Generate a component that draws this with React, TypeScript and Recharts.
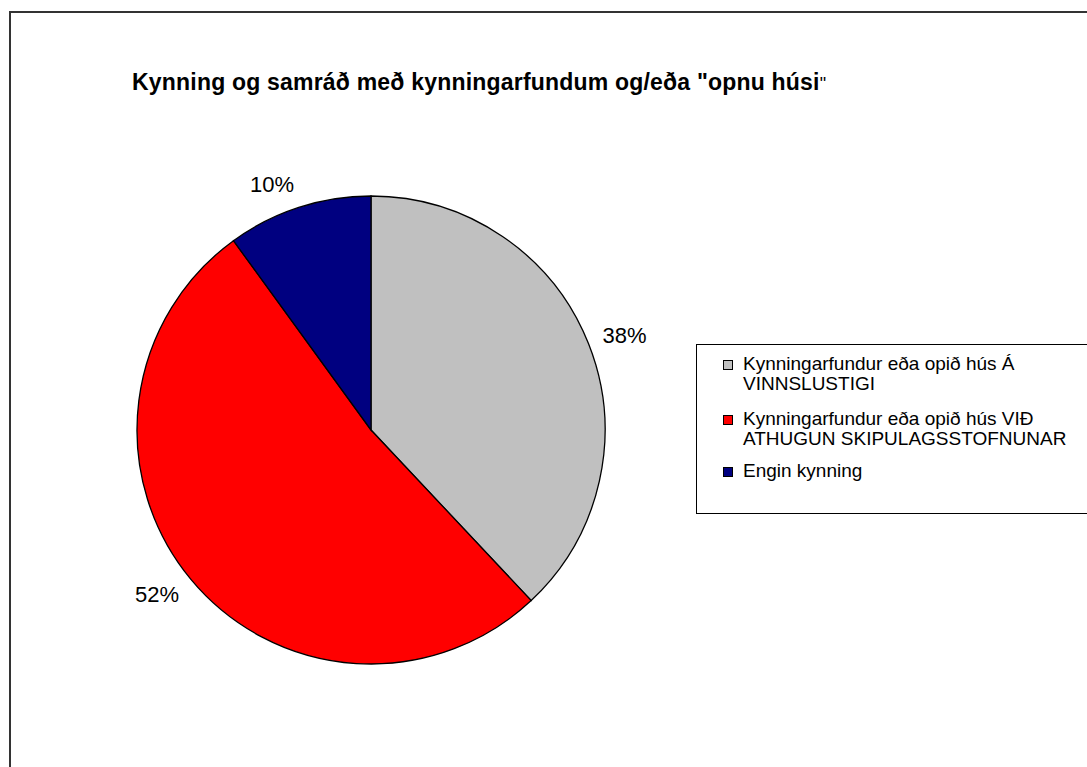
import { PieChart, Pie, Cell, Legend } from "recharts"

const categories = [
  "Kynningarfundur eða opið hús Á VINNSLUSTIGI",
  "Kynningarfundur eða opið hús VIÐ ATHUGUN SKIPULAGSSTOFNUNAR",
  "Engin kynning",
]
const legendLines = [
  ["Kynningarfundur eða opið hús Á", "VINNSLUSTIGI"],
  ["Kynningarfundur eða opið hús VIÐ", "ATHUGUN SKIPULAGSSTOFNUNAR"],
  ["Engin kynning"],
]
const values = [38, 52, 10]
const colors = ["#c0c0c0", "#ff0000", "#000080"]

const data = categories.map((name, i) => ({ name, value: values[i] }))

const FONT = "'Liberation Sans', Arial, sans-serif"
const RADIAN = Math.PI / 180

// labels sit outside the pie, anchored away from it
const renderLabel = (props: any) => {
  const { cx, cy, midAngle, outerRadius, percent } = props
  const r = outerRadius + 15
  const x = cx + r * Math.cos(-midAngle * RADIAN)
  const y = cy + (r + 9) * Math.sin(-midAngle * RADIAN)
  const anchor = Math.cos(-midAngle * RADIAN) >= 0 ? "start" : "end"
  return (
    <text
      x={x}
      y={y}
      textAnchor={anchor}
      dominantBaseline="central"
      fill="#000"
      fontSize={22}
      fontFamily={FONT}
    >
      {`${Math.round(percent * 100)}%`}
    </text>
  )
}

const LegendBox = () => (
  <div
    style={{
      position: "absolute",
      left: 696,
      top: 344,
      width: 420,
      height: 168,
      border: "1px solid #000",
      background: "#fff",
      fontFamily: FONT,
      fontSize: 19,
      color: "#000",
    }}
  >
    {legendLines.map((lines, i) => (
      <div
        key={i}
        style={{
          position: "absolute",
          left: 26,
          top: [9, 64, 116][i],
          lineHeight: "20px",
        }}
      >
        <span
          style={{
            position: "absolute",
            left: 0,
            top: 6,
            width: 8,
            height: 8,
            background: colors[i],
            border: "1px solid #000",
          }}
        />
        <div style={{ marginLeft: 20, whiteSpace: "nowrap" }}>
          {lines.map((l, j) => (
            <div key={j}>{l}</div>
          ))}
        </div>
      </div>
    ))}
  </div>
)

export default function App() {
  return (
    <div
      style={{
        position: "fixed",
        left: 0,
        top: 0,
        width: 1087,
        height: 767,
        overflow: "hidden",
        background: "#fff",
      }}
    >
      <div
        style={{
          position: "absolute",
          left: 9,
          top: 11,
          width: 1200,
          height: 1000,
          border: "2px solid #333",
        }}
      />
      <div
        style={{
          position: "absolute",
          left: 132,
          top: 69,
          fontFamily: FONT,
          fontSize: 23,
          fontWeight: "bold",
          whiteSpace: "nowrap",
          letterSpacing: 0.2,
        }}
      >
        Kynning og samráð með kynningarfundum og/eða "opnu húsi
        <span style={{ fontWeight: "normal", fontSize: 18 }}>"</span>
      </div>
      <PieChart width={1087} height={767} style={{ position: "absolute", left: 0, top: 0 }}>
        <Pie
          data={data}
          dataKey="value"
          nameKey="name"
          cx={366}
          cy={425}
          outerRadius={234}
          startAngle={90}
          endAngle={-270}
          stroke="#000"
          strokeWidth={1.3}
          label={renderLabel}
          labelLine={false}
          isAnimationActive={false}
        >
          {data.map((d, i) => (
            <Cell key={d.name} fill={colors[i]} />
          ))}
        </Pie>
        <Legend content={() => null} />
      </PieChart>
      <LegendBox />
    </div>
  )
}
